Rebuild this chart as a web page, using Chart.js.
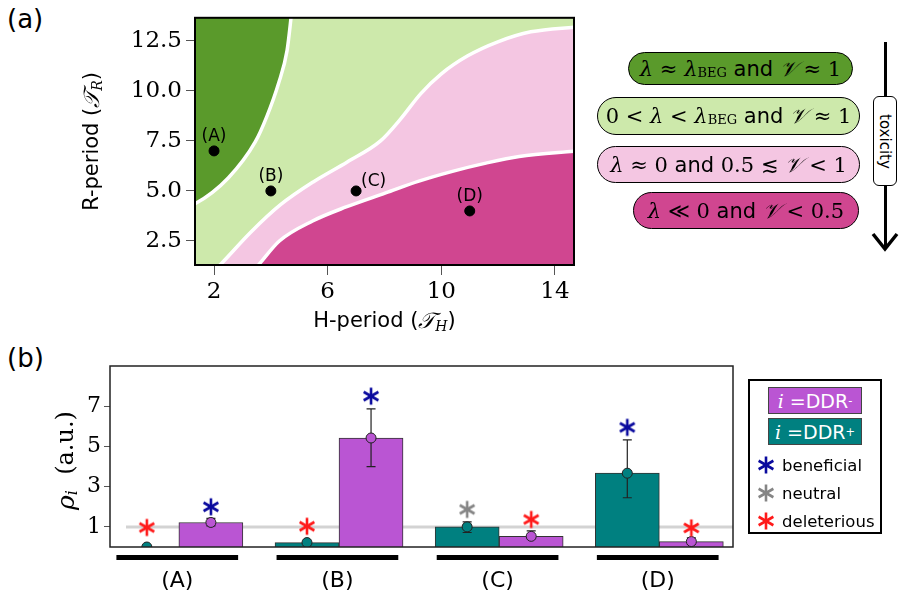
<!DOCTYPE html>
<html lang="en">
<head>
<meta charset="UTF-8" />
<title>Phase diagram and DDR densities</title>
<style>
  body { margin:0; width:899px; height:595px; background:#fff; position:relative; overflow:hidden; font-family:"DejaVu Sans", sans-serif; color:#000; }
  .abs { position:absolute; }
  .panel { position:absolute; font-size:26px; }
  .pill { position:absolute; border:1.5px solid #000; border-radius:19px; box-sizing:border-box; font-size:21px; display:flex; align-items:center; justify-content:center; white-space:nowrap; }
  .m { font-family:"DejaVu Serif", serif; }
  .mi { font-family:"DejaVu Serif", serif; font-style:italic; }
  .sub { font-size:0.62em; position:relative; top:0.3em; }
  #legB { left:748px; top:379px; width:134px; height:155px; border:2px solid #000; box-sizing:border-box; background:#fff; }
  .lrect { position:absolute; left:18px; width:94px; height:27px; border:1px solid #444; box-sizing:border-box; color:#fff; font-size:19px; display:flex; align-items:center; justify-content:center; }
  .lrow { position:absolute; left:6px; font-size:16.5px; display:flex; align-items:center; }
</style>
</head>
<body>
  <div class="panel" style="left:7px; top:4px;">(a)</div>
  <div class="panel" style="left:7px; top:343px;">(b)</div>

  <div class="abs" style="left:0; top:0; width:600px; height:340px;"><canvas id="phase" width="600" height="340"></canvas></div>
  <div class="abs" style="left:0; top:340px; width:745px; height:255px;"><canvas id="bars" width="745" height="255"></canvas></div>

  <div id="pills"></div>

  <div class="abs" style="left:883.5px; top:42px; width:3px; height:207px; background:#000;"></div>
  <svg class="abs" style="left:870px; top:230px;" width="30" height="24">
    <polyline points="3,4 15,19 27,4" fill="none" stroke="#000" stroke-width="3.5" />
  </svg>
  <div class="abs" style="left:873px; top:96px; width:24px; height:90px; border:1.5px solid #000; border-radius:6px; box-sizing:border-box; background:#fff; display:flex; align-items:center; justify-content:center;">
    <span style="writing-mode:vertical-rl; font-size:15px;">toxicity</span>
  </div>

  <div id="legB" class="abs">
    <div class="lrect" style="top:6px; background:#ba55d3;"><span class="mi">i</span>&nbsp;=DDR<sup style="font-size:0.6em">-</sup></div>
    <div class="lrect" style="top:37px; background:#008080;"><span class="mi">i</span>&nbsp;=DDR<sup style="font-size:0.6em">+</sup></div>
    <div id="legRows"></div>
  </div>

  <script src="https://cdn.jsdelivr.net/npm/chart.js"></script>
  <script>
    // ---------- panel (a): phase diagram ----------
    const hTicks = [2, 6, 10, 14];
    const rTicks = [2.5, 5, 7.5, 10, 12.5];

    // boundary between dark green and light green
    const bound1H = [1.2, 1.33, 2.5, 3.45, 3.86, 4.27, 4.57, 4.71, 4.75];
    const bound1R = [4.3, 4.36, 5.65, 7.45, 8.73, 10.37, 12.01, 13.65, 14.2];
    // boundary between light green and light pink
    const bound2H = [2.1, 2.27, 3.3, 4.33, 5.49, 6.69, 7.86, 8.57, 9.27, 10.0, 10.93, 11.99, 13.15, 14.8];
    const bound2R = [1.15, 1.39, 2.95, 4.3, 5.45, 6.45, 7.5, 8.6, 9.85, 10.85, 11.75, 12.45, 12.95, 13.2];
    // boundary between light pink and dark pink
    const bound3H = [3.45, 3.62, 4.3, 5.47, 6.65, 8.04, 9.21, 10.39, 11.57, 12.74, 14.8];
    const bound3R = [1.1, 1.39, 2.5, 3.5, 4.2, 4.9, 5.49, 5.98, 6.39, 6.72, 7.0];

    const caseLabels = ['(A)', '(B)', '(C)', '(D)'];
    const caseH = [2, 4, 7, 11];
    const caseR = [7, 5, 5, 4];

    const regionColors = ['#5a9a2b', '#cde9ab', '#f4c6e2', '#d04690'];
    const regionTexts = [
      '<span class="mi">λ</span>&nbsp;<span class="m">≈</span>&nbsp;<span class="mi">λ</span><span class="m sub">BEG</span>&nbsp;and&nbsp;<span class="mi">𝒱</span>&nbsp;<span class="m">≈ 1</span>',
      '<span class="m">0 &lt;</span>&nbsp;<span class="mi">λ</span>&nbsp;<span class="m">&lt;</span>&nbsp;<span class="mi">λ</span><span class="m sub">BEG</span>&nbsp;and&nbsp;<span class="mi">𝒱</span>&nbsp;<span class="m">≈ 1</span>',
      '<span class="mi">λ</span>&nbsp;<span class="m">≈ 0</span>&nbsp;and&nbsp;<span class="m">0.5 ≲</span>&nbsp;<span class="mi">𝒱</span>&nbsp;<span class="m">&lt; 1</span>',
      '<span class="mi">λ</span>&nbsp;<span class="m">≪ 0</span>&nbsp;and&nbsp;<span class="mi">𝒱</span>&nbsp;<span class="m">&lt; 0.5</span>'
    ];
    const pillBoxes = [[628, 52, 225, 33], [597, 97, 263, 38], [597, 146, 263, 37], [633, 192, 226, 37]];

    const pills = document.getElementById('pills');
    regionTexts.forEach((t, i) => {
      const d = document.createElement('div');
      const b = pillBoxes[i];
      d.className = 'pill';
      d.style.left = b[0] + 'px'; d.style.top = b[1] + 'px';
      d.style.width = b[2] + 'px'; d.style.height = b[3] + 'px';
      d.style.background = regionColors[i];
      d.innerHTML = t;
      pills.appendChild(d);
    });

    const toXY = (xs, ys) => xs.map((x, i) => ({ x: x, y: ys[i] }));

    function drawRich(ctx, parts, x, y) {
      let w = 0;
      parts.forEach(p => { ctx.font = p.font; w += ctx.measureText(p.t).width; });
      let cx = x - w / 2;
      ctx.textBaseline = 'middle';
      ctx.textAlign = 'left';
      parts.forEach(p => {
        ctx.font = p.font;
        ctx.fillText(p.t, cx, y + (p.dy || 0));
        cx += ctx.measureText(p.t).width;
      });
    }

    const phasePlugin = {
      id: 'phaseDeco',
      beforeDatasetsDraw(chart) {
        const { ctx, chartArea: a } = chart;
        ctx.save();
        ctx.fillStyle = regionColors[1];
        ctx.fillRect(a.left, a.top, a.right - a.left, a.bottom - a.top);
        ctx.restore();
      },
      afterDatasetsDraw(chart) {
        const { ctx, chartArea: a, scales } = chart;
        ctx.save();
        ctx.fillStyle = '#000';
        ctx.font = '17px "DejaVu Sans"';
        ctx.textBaseline = 'alphabetic';
        caseLabels.forEach((l, i) => {
          const px = scales.x.getPixelForValue(caseH[i]);
          const py = scales.y.getPixelForValue(caseR[i]);
          if (i === 2) { ctx.textAlign = 'left'; ctx.fillText(l, px + 5, py - 5); }
          else { ctx.textAlign = 'center'; ctx.fillText(l, px, py - 10); }
        });
        ctx.strokeStyle = '#000';
        ctx.lineWidth = 2;
        ctx.strokeRect(a.left, a.top, a.right - a.left, a.bottom - a.top);
        ctx.fillStyle = '#000';
        drawRich(ctx, [
          { t: 'H-period (', font: '21px "DejaVu Sans"' },
          { t: '𝒯', font: 'italic 22px "DejaVu Serif"' },
          { t: 'H', font: 'italic 14px "DejaVu Serif"', dy: 5 },
          { t: ')', font: '21px "DejaVu Sans"' }
        ], (a.left + a.right) / 2, 322);
        ctx.translate(93, (a.top + a.bottom) / 2);
        ctx.rotate(-Math.PI / 2);
        drawRich(ctx, [
          { t: 'R-period (', font: '21px "DejaVu Sans"' },
          { t: '𝒯', font: 'italic 22px "DejaVu Serif"' },
          { t: 'R', font: 'italic 14px "DejaVu Serif"', dy: 5 },
          { t: ')', font: '21px "DejaVu Sans"' }
        ], 0, 0);
        ctx.restore();
      }
    };

    const lineStyle = { showLine: true, pointRadius: 0, borderColor: '#fff', borderWidth: 3.5, cubicInterpolationMode: 'monotone', clip: 0 };

    new Chart(document.getElementById('phase'), {
      type: 'scatter',
      data: {
        datasets: [
          { data: toXY(caseH, caseR), pointRadius: 5, pointBackgroundColor: '#000', pointBorderColor: '#000', showLine: false },
          Object.assign({ data: toXY(bound3H, bound3R), fill: 'start', backgroundColor: regionColors[3] }, lineStyle),
          Object.assign({ data: toXY(bound2H, bound2R), fill: 'start', backgroundColor: regionColors[2] }, lineStyle),
          Object.assign({ data: toXY(bound1H, bound1R), fill: 'end', backgroundColor: regionColors[0] }, lineStyle)
        ]
      },
      options: {
        responsive: false, animation: false, maintainAspectRatio: false,
        layout: { padding: { top: 14, right: 26, left: 0, bottom: 0 } },
        plugins: { legend: { display: false }, tooltip: { enabled: false } },
        scales: {
          x: {
            type: 'linear', min: 1.33, max: 14.67,
            afterBuildTicks: s => { s.ticks = hTicks.map(v => ({ value: v })); },
            afterFit: s => { s.height = 75; },
            grid: { drawOnChartArea: false, tickLength: 10, color: '#555' },
            border: { display: false },
            ticks: { color: '#000', padding: 3, font: { family: 'DejaVu Serif', size: 23 }, maxRotation: 0 }
          },
          y: {
            type: 'linear', min: 1.3, max: 13.65,
            afterBuildTicks: s => { s.ticks = rTicks.map(v => ({ value: v })); },
            afterFit: s => { s.width = 195; },
            grid: { drawOnChartArea: false, tickLength: 9, color: '#555' },
            border: { display: false },
            ticks: { color: '#000', padding: 4, font: { family: 'DejaVu Serif', size: 23 }, callback: v => v.toFixed(1) }
          }
        }
      },
      plugins: [phasePlugin]
    });

    // ---------- panel (b): densities ----------
    const groups = ['(A)', '(B)', '(C)', '(D)'];
    const ddrPlus = [0, 0.22, 1.0, 3.67];
    const ddrMinus = [1.22, 5.42, 0.53, 0.27];
    const ddrPlusLo = [null, null, 0.72, 2.45];
    const ddrPlusHi = [null, null, 1.25, 5.33];
    const ddrMinusLo = [1.05, 4.0, 0.42, 0.15];
    const ddrMinusHi = [1.42, 6.87, 0.8, 0.45];
    const effectPlus = ['deleterious', 'deleterious', 'neutral', 'beneficial'];
    const effectPlusY = [0.97, 1.03, 1.87, 5.95];
    const effectMinus = ['beneficial', 'beneficial', 'deleterious', 'deleterious'];
    const effectMinusY = [2.0, 7.5, 1.37, 0.95];
    const rhoTicks = [1, 3, 5, 7];
    const baseline = 1;

    const effectColors = { beneficial: '#0a0a9e', neutral: '#858585', deleterious: '#ff1a1a' };
    const tealColor = '#008080', purpleColor = '#ba55d3';
    const shift = 0.2;

    function makeStar(color) {
      const c = document.createElement('canvas');
      const s = 20, r = 8.5;
      c.width = s; c.height = s;
      const g = c.getContext('2d');
      g.strokeStyle = color; g.lineWidth = 2.6; g.lineCap = 'butt';
      [90, 30, 150].forEach(d => {
        const t = d * Math.PI / 180;
        g.beginPath();
        g.moveTo(s / 2 - r * Math.cos(t), s / 2 - r * Math.sin(t));
        g.lineTo(s / 2 + r * Math.cos(t), s / 2 + r * Math.sin(t));
        g.stroke();
      });
      return c;
    }
    const starImgs = {};
    Object.keys(effectColors).forEach(k => { starImgs[k] = makeStar(effectColors[k]); });

    // legend rows
    const legRows = document.getElementById('legRows');
    Object.keys(effectColors).forEach((k, i) => {
      const row = document.createElement('div');
      row.className = 'lrow';
      row.style.top = (72 + i * 28) + 'px';
      row.style.height = '24px';
      const c = makeStar(effectColors[k]);
      c.style.marginRight = '6px';
      row.appendChild(c);
      row.appendChild(document.createTextNode(k));
      legRows.appendChild(row);
    });

    const meanPts = [], meanCols = [];
    groups.forEach((g, i) => {
      meanPts.push({ x: i - shift, y: ddrPlus[i] }); meanCols.push(tealColor);
      meanPts.push({ x: i + shift, y: ddrMinus[i] }); meanCols.push(purpleColor);
    });
    const starPts = [], starStyles = [];
    groups.forEach((g, i) => {
      starPts.push({ x: i - shift, y: effectPlusY[i] }); starStyles.push(starImgs[effectPlus[i]]);
      starPts.push({ x: i + shift, y: effectMinusY[i] }); starStyles.push(starImgs[effectMinus[i]]);
    });

    const barsPlugin = {
      id: 'barsDeco',
      beforeDatasetDraw(chart, args) {
        if (chart.data.datasets[args.index].role !== 'means') return;
        const { ctx, scales } = chart;
        ctx.save();
        ctx.strokeStyle = '#222';
        ctx.lineWidth = 1.2;
        const seg = (x, lo, hi) => {
          if (lo === null) return;
          const px = scales.x.getPixelForValue(x);
          const y0 = scales.y.getPixelForValue(lo), y1 = scales.y.getPixelForValue(hi);
          ctx.beginPath();
          ctx.moveTo(px, y0); ctx.lineTo(px, y1);
          ctx.moveTo(px - 4.5, y0); ctx.lineTo(px + 4.5, y0);
          ctx.moveTo(px - 4.5, y1); ctx.lineTo(px + 4.5, y1);
          ctx.stroke();
        };
        groups.forEach((g, i) => {
          seg(i - shift, ddrPlusLo[i], ddrPlusHi[i]);
          seg(i + shift, ddrMinusLo[i], ddrMinusHi[i]);
        });
        ctx.restore();
      },
      afterDraw(chart) {
        const { ctx, chartArea: a, scales } = chart;
        ctx.save();
        ctx.strokeStyle = '#222';
        ctx.lineWidth = 1.5;
        ctx.strokeRect(a.left, a.top, a.right - a.left, a.bottom - a.top);
        ctx.fillStyle = '#000';
        ctx.font = '22px "DejaVu Sans"';
        ctx.textAlign = 'center';
        ctx.textBaseline = 'middle';
        groups.forEach((g, i) => {
          const x0 = scales.x.getPixelForValue(i - 0.39), x1 = scales.x.getPixelForValue(i + 0.37);
          ctx.fillRect(x0, a.bottom + 8, x1 - x0, 5);
          ctx.fillText(g, (x0 + x1) / 2, a.bottom + 34);
        });
        ctx.translate(67, (a.top + a.bottom) / 2 + 4);
        ctx.rotate(-Math.PI / 2);
        drawRich(ctx, [
          { t: 'ρ', font: 'italic 25px "DejaVu Serif"' },
          { t: 'i', font: 'italic 16px "DejaVu Serif"', dy: 6 },
          { t: '  (a.u.)', font: '24px "DejaVu Serif"' }
        ], 0, 0);
        ctx.restore();
      }
    };

    new Chart(document.getElementById('bars'), {
      type: 'bar',
      data: {
        datasets: [
          { type: 'scatter', role: 'stars', data: starPts, pointStyle: starStyles, pointRadius: 9, order: 0 },
          { type: 'scatter', role: 'means', data: meanPts, pointRadius: 5, pointBackgroundColor: meanCols, pointBorderColor: '#222', pointBorderWidth: 1, order: 1 },
          { label: 'DDR+', data: groups.map((g, i) => ({ x: i, y: ddrPlus[i] })), backgroundColor: tealColor, borderColor: '#333', borderWidth: 1, barThickness: 64, order: 5 },
          { label: 'DDR-', data: groups.map((g, i) => ({ x: i, y: ddrMinus[i] })), backgroundColor: purpleColor, borderColor: '#333', borderWidth: 1, barThickness: 64, order: 5 },
          { type: 'line', data: [{ x: -0.33, y: baseline }, { x: 3.46, y: baseline }], borderColor: '#d3d3d3', borderWidth: 3, pointRadius: 0, order: 10 }
        ]
      },
      options: {
        responsive: false, animation: false, maintainAspectRatio: false,
        layout: { padding: { top: 26, right: 12, left: 0, bottom: 48 } },
        plugins: { legend: { display: false }, tooltip: { enabled: false } },
        scales: {
          x: {
            type: 'linear', min: -0.43, max: 3.46, display: false, offset: false,
            afterBuildTicks: s => { s.ticks = groups.map((g, i) => ({ value: i })); }
          },
          y: {
            type: 'linear', min: 0, max: 9,
            afterBuildTicks: s => { s.ticks = rhoTicks.map(v => ({ value: v })); },
            afterFit: s => { s.width = 110; },
            grid: { drawOnChartArea: false, tickLength: 6, color: '#555' },
            border: { display: false },
            ticks: { color: '#000', padding: 3, font: { family: 'DejaVu Serif', size: 22 } }
          }
        }
      },
      plugins: [barsPlugin]
    });
  </script>
</body>
</html>
